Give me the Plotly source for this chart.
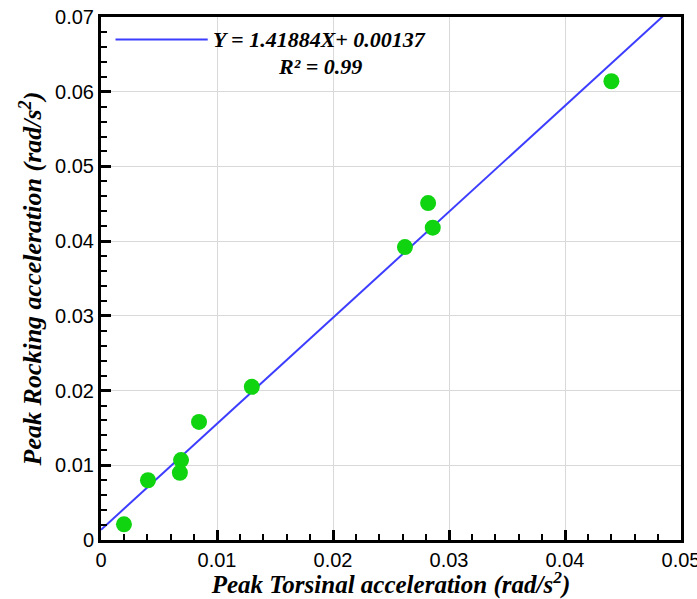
import plotly.graph_objects as go

# Data
torsional = [0.00198, 0.00405, 0.0069, 0.0068, 0.00845, 0.0130, 0.0262, 0.0282, 0.0286, 0.0440]
rocking = [0.0021, 0.0080, 0.0107, 0.0090, 0.0158, 0.0205, 0.0392, 0.0451, 0.0418, 0.0614]
slope = 1.41884
intercept = 0.00137
fit_x = [0.0, 0.05]
fit_y = [slope * v + intercept for v in fit_x]
x_ticks = [0, 0.01, 0.02, 0.03, 0.04, 0.05]
y_ticks = [0, 0.01, 0.02, 0.03, 0.04, 0.05, 0.06, 0.07]

fig = go.Figure()
fig.add_trace(go.Scatter(x=fit_x, y=fit_y, mode="lines",
                         line=dict(color="#3d3dff", width=2), showlegend=False))
fig.add_trace(go.Scatter(x=torsional, y=rocking, mode="markers",
                         marker=dict(color="#0fd40f", size=16, line=dict(width=0)),
                         showlegend=False))

axis_common = dict(
    showline=True, linecolor="#000000", linewidth=3, mirror=True,
    ticks="inside", ticklen=10, tickwidth=3, tickcolor="#000000",
    showgrid=True, gridcolor="#d9d9d9",
    tickfont=dict(family="Liberation Sans", size=20, color="black"),
    ticklabeloverflow="allow", tickmode="linear", tick0=0, automargin=False,
    minor=dict(ticks="inside", ticklen=6, tickwidth=1.5, tickcolor="#000000",
               dtick=0.002, showgrid=False),
)

fig.update_xaxes(range=[x_ticks[0], x_ticks[-1]], dtick=x_ticks[1] - x_ticks[0],
                 title=dict(text="<b><i>Peak Torsinal acceleration (rad/s<sup>2</sup>)</i></b>",
                            font=dict(family="Liberation Serif", size=25, color="black"), standoff=2),
                 **axis_common)
fig.update_yaxes(range=[y_ticks[0], y_ticks[-1]], dtick=y_ticks[1] - y_ticks[0],
                 title=dict(text="<b><i>Peak Rocking acceleration (rad/s<sup>2</sup>)</i></b>",
                            font=dict(family="Liberation Serif", size=26, color="black"), standoff=6),
                 **axis_common)

# legend box content
fig.add_shape(type="line", xref="paper", yref="paper", x0=0.025, x1=0.184, y0=0.957, y1=0.957,
              line=dict(color="#3d3dff", width=2))
fig.add_annotation(xref="paper", yref="paper", x=0.377, y=0.957, xanchor="center", yanchor="middle",
                   text="<b><i>Y = 1.41884X+ 0.00137</i></b>", showarrow=False,
                   font=dict(family="Liberation Serif", size=22, color="black"))
fig.add_annotation(xref="paper", yref="paper", x=0.377, y=0.906, xanchor="center", yanchor="middle",
                   text="<b><i>R² = 0.99</i></b>", showarrow=False,
                   font=dict(family="Liberation Serif", size=22, color="black"))

fig.update_layout(width=697, height=599, margin=dict(l=101, r=16, t=17, b=59),
                  plot_bgcolor="white", paper_bgcolor="white")

fig.write_html("out.html")
